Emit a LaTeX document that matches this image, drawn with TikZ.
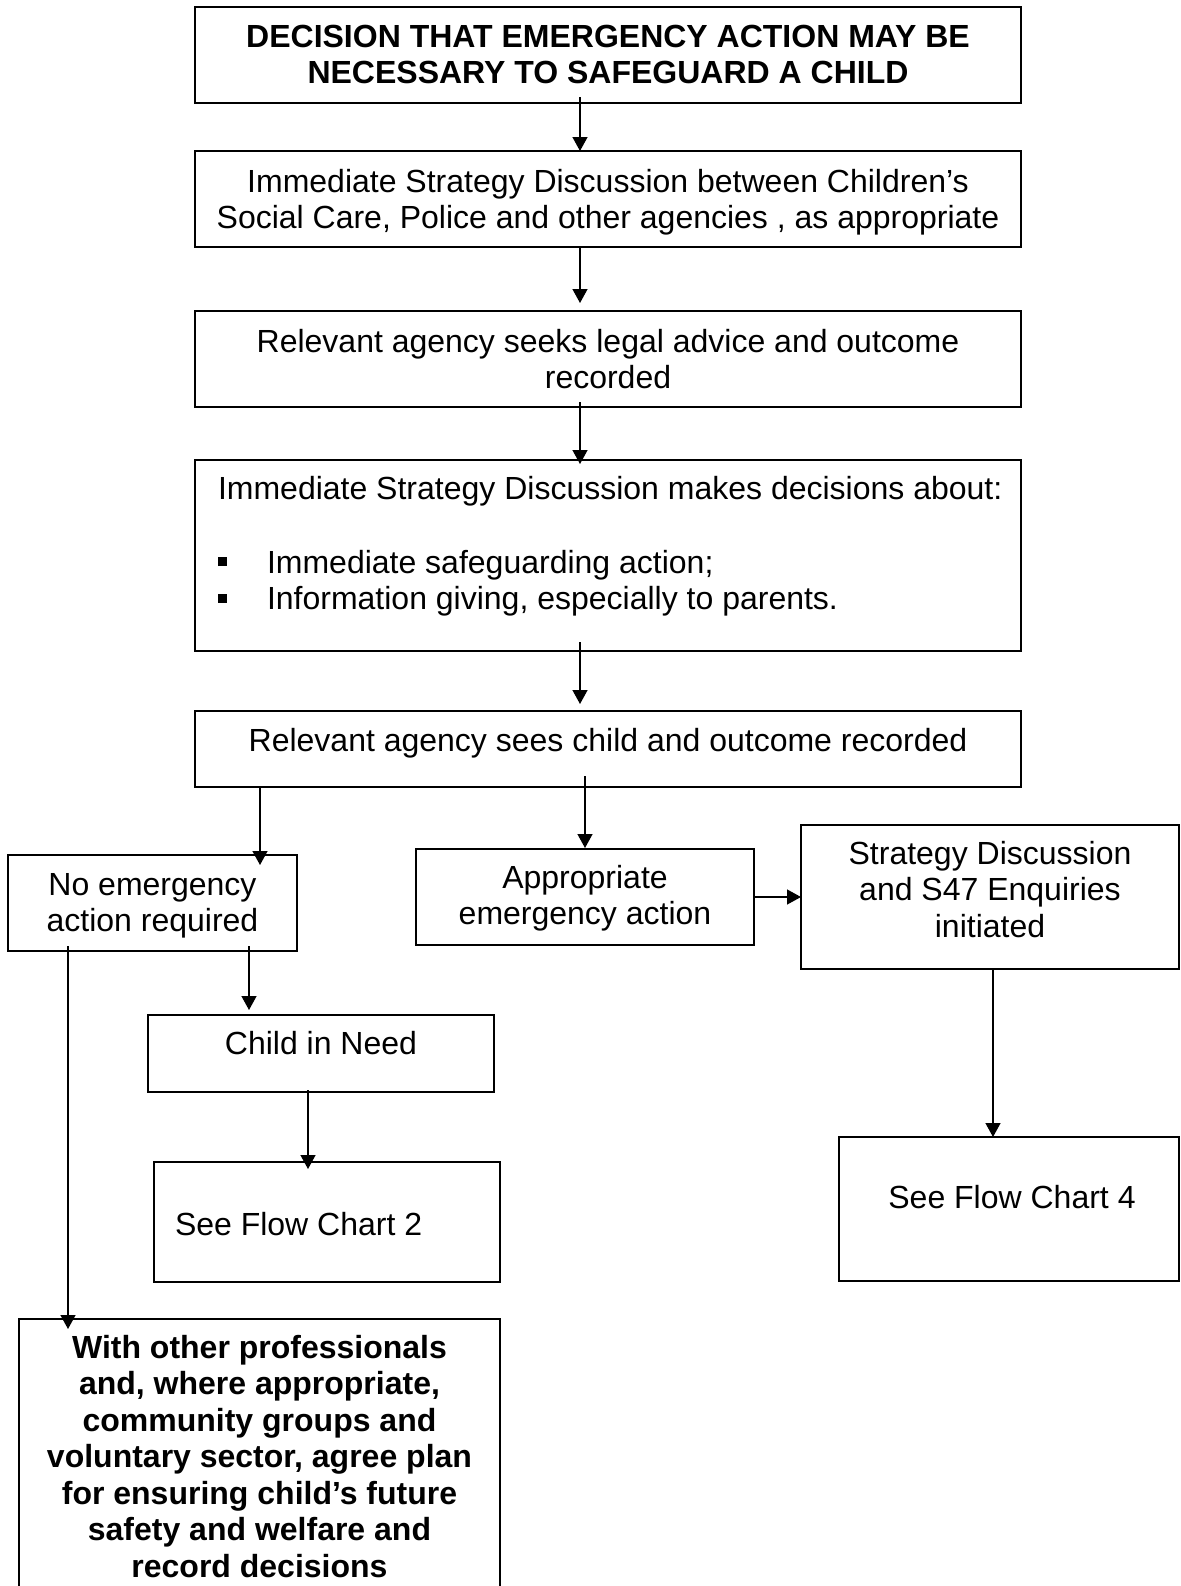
\documentclass[tikz,border=0pt]{standalone}
\usepackage{fontspec}
\setmainfont{Liberation Sans}
\usetikzlibrary{arrows.meta}
\newlength{\pxu}\setlength{\pxu}{0.375pt}
% \tb{width}{height}{alignment}{first baseline below top}{content}
\newcommand{\tb}[5]{\parbox[c][#2\pxu][t]{#1\pxu}{#3\rule{0pt}{#4\pxu}#5}}
\newcommand{\sqbullet}{\makebox[49\pxu][l]{\rule[7\pxu]{9\pxu}{9\pxu}}}
\begin{document}
\begin{tikzpicture}[x=0.375pt,y=-0.375pt,
  every node/.style={font=\fontsize{12pt}{13.7pt}\selectfont},
  box/.style={draw=black, line width=0.75pt, inner sep=0pt, outer sep=0pt, rectangle},
  arr/.style={draw=black, line width=0.6pt, -{Triangle[length=5.25pt,width=5.6pt]}}]
\useasboundingbox (0,0) rectangle (1180,1586);
\clip (0,0) rectangle (1180,1586);

% boxes
\node[box] (b1) at (608,55) {\tb{826}{96}{\centering\bfseries}{40}{DECISION THAT EMERGENCY ACTION MAY BE\\NECESSARY TO SAFEGUARD A CHILD}};
\node[box] (b2) at (608,199) {\tb{826}{96}{\centering}{41}{Immediate Strategy Discussion between Children’s\\Social Care, Police and other agencies , as appropriate}};
\node[box] (b3) at (608,359) {\tb{826}{96}{\centering}{41}{Relevant agency seeks legal advice and outcome\\recorded}};
\node[box] (b4) at (608,555.5) {\tb{826}{191}{\raggedright}{39}{\hspace*{23\pxu}Immediate Strategy Discussion makes decisions about:\\[14.05pt]
  \hspace*{23\pxu}\sqbullet Immediate safeguarding action;\\
  \hspace*{23\pxu}\sqbullet Information giving, especially to parents.}};
\node[box] (b5) at (608,749) {\tb{826}{76}{\centering}{40}{Relevant agency sees child and outcome recorded}};
\node[box] (b6) at (152.5,903) {\tb{289}{96}{\centering}{40}{No emergency\\action required}};
\node[box] (b7) at (585,897) {\tb{338}{96}{\centering}{39}{Appropriate\\emergency action}};
\node[box] (b8) at (990,897) {\tb{378}{144}{\centering}{39}{Strategy Discussion\\and S47 Enquiries\\initiated}};
\node[box] (b9) at (321,1053.5) {\tb{346}{77}{\centering}{39}{Child in Need}};
\node[box] (b10) at (327,1222) {\tb{346}{120}{\raggedright}{73}{\hspace*{21\pxu}See Flow Chart 2}};
\node[box] (b11) at (1009,1209) {\tb{340}{144}{\centering}{71}{\hspace*{6\pxu}See Flow Chart 4}};
\node[box] (b12) at (259.5,1469) {\tb{481}{300}{\centering\bfseries}{39}{With other professionals\\and, where appropriate,\\community groups and\\voluntary sector, agree plan\\for ensuring child’s future\\safety and welfare and\\record decisions}};

% connector columns
\coordinate (xA) at (580,0);
\coordinate (xB) at (260,0);
\coordinate (xC) at (585,0);
\coordinate (xD) at (249,0);
\coordinate (xE) at (308,0);
\coordinate (xF) at (993,0);
\coordinate (xG) at (68,0);
\coordinate (yH) at (0,897);

% connectors
\draw[arr, shorten <=-2.25pt] (b1.south -| xA) -- (b2.north -| xA);
\draw[arr, shorten >=3pt] (b2.south -| xA) -- (b3.north -| xA);
\draw[arr, shorten <=-1.875pt, shorten >=-1.5pt] (b3.south -| xA) -- (b4.north -| xA);
\draw[arr, shorten <=-3.375pt, shorten >=2.625pt] (b4.south -| xA) -- (b5.north -| xA);
\draw[arr, shorten >=-3.75pt] (b5.south -| xB) -- (b6.north -| xB);
\draw[arr, shorten <=-4.125pt, shorten >=0.375pt] (b5.south -| xC) -- (b7.north -| xC);
\draw[arr] (b7.east |- yH) -- (b8.west |- yH);
\draw[arr, shorten <=-1.875pt, shorten >=1.875pt] (b6.south -| xD) -- (b9.north -| xD);
\draw[arr, shorten <=-0.75pt, shorten >=-2.625pt] (b9.south -| xE) -- (b10.north -| xE);
\draw[arr] (b8.south -| xF) -- (b11.north -| xF);
\draw[arr, shorten <=-1.875pt, shorten >=-3.75pt] (b6.south -| xG) -- (b12.north -| xG);
\end{tikzpicture}
\end{document}
